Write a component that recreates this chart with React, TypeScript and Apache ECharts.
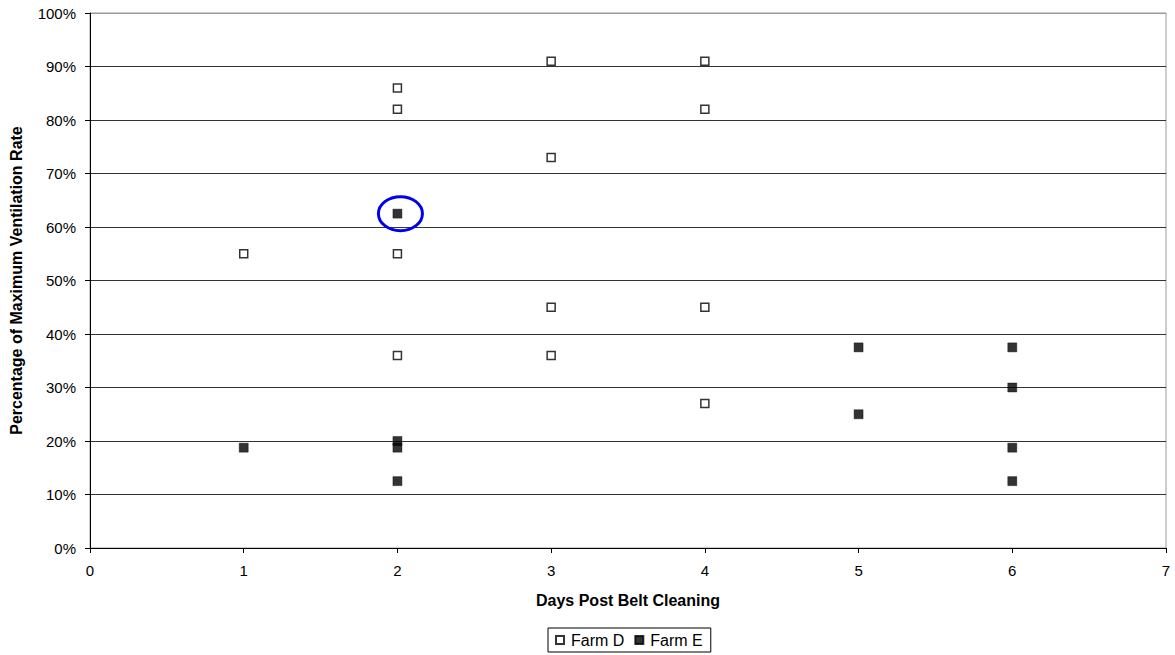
import React, { useEffect, useRef } from "react";
import * as echarts from "echarts";

const farmDDays = [1, 2, 2, 2, 2, 3, 3, 3, 3, 4, 4, 4, 4];
const farmDValues = [55, 86, 82, 55, 36, 91, 73, 45, 36, 91, 82, 45, 27];
const farmEDays = [1, 2, 2, 2, 2, 5, 5, 6, 6, 6, 6];
const farmEValues = [18.75, 62.5, 20, 18.75, 12.5, 37.5, 25, 37.5, 30, 18.75, 12.5];
const highlightPoint = [2, 62.5];
const seriesNames = ["Farm D", "Farm E"];

const FONT = "'Liberation Sans', Arial, sans-serif";

export default function App() {
  const ref = useRef<HTMLDivElement>(null);
  useEffect(() => {
    if (!ref.current) return;
    const chart = echarts.init(ref.current, undefined, { renderer: "svg" });
    const gridLineColors = ["#333", "#333", "#333", "#333", "#333", "#333", "#333", "#333", "#333", "#333", "#999"];
    const option: any = {
      animation: false,
      backgroundColor: "#fff",
      textStyle: { fontFamily: FONT },
      grid: {
        left: 90,
        right: 9,
        top: 13,
        bottom: 107,
        show: true,
        borderColor: "#999",
        borderWidth: 1,
        outerBoundsMode: "none",
        containLabel: false,
      },
      legend: {
        top: 628,
        left: 548,
        itemWidth: 8,
        itemHeight: 8,
        itemGap: 10,
        padding: [4, 8, 4, 7],
        borderColor: "#000",
        borderWidth: 1,
        borderRadius: 0,
        textStyle: { fontFamily: FONT, fontSize: 16, color: "#000", padding: [0, 0, 0, 2] },
        data: [
          { name: seriesNames[0], icon: "rect" },
          { name: seriesNames[1], icon: "rect" },
        ],
      },
      xAxis: {
        type: "value",
        min: 0,
        max: 7,
        interval: 1,
        name: "Days Post Belt Cleaning",
        nameLocation: "middle",
        nameGap: 44,
        nameTextStyle: { fontFamily: FONT, fontSize: 16, fontWeight: "bold", color: "#000" },
        axisLine: { show: true, lineStyle: { color: "#000", width: 1 } },
        axisTick: { show: true, length: 5, lineStyle: { color: "#000" } },
        axisLabel: { fontFamily: FONT, fontSize: 15, color: "#000", margin: 15 },
        splitLine: { show: false },
      },
      yAxis: {
        type: "value",
        min: 0,
        max: 100,
        interval: 10,
        name: "Percentage of Maximum Ventilation Rate",
        nameLocation: "middle",
        nameGap: 66,
        nameTextStyle: { fontFamily: FONT, fontSize: 16, fontWeight: "bold", color: "#000" },
        axisLine: { show: true, lineStyle: { color: "#000", width: 1 } },
        axisTick: { show: true, length: 5, lineStyle: { color: "#000" } },
        axisLabel: { fontFamily: FONT, fontSize: 15, color: "#000", margin: 14, formatter: "{value}%" },
        splitLine: { show: true, lineStyle: { color: gridLineColors, width: 1 } },
      },
      series: [
        {
          name: seriesNames[0],
          type: "scatter",
          symbol: "rect",
          symbolSize: 8,
          itemStyle: { color: "#fff", borderColor: "#000", borderWidth: 1.5 },
          data: farmDDays.map((d, i) => [d, farmDValues[i]]),
          z: 3,
        },
        {
          name: seriesNames[1],
          type: "scatter",
          symbol: "rect",
          symbolSize: 9,
          itemStyle: { color: "#000", borderColor: "#000", borderWidth: 0.5 },
          data: farmEDays.map((d, i) => [d, farmEValues[i]]),
          z: 4,
        },
      ],
    };
    chart.setOption(option);
    const p = chart.convertToPixel({ gridIndex: 0 }, highlightPoint) as number[];
    chart.setOption({
      graphic: [
        {
          type: "ellipse",
          shape: { cx: p[0] + 3, cy: p[1], rx: 22, ry: 17 },
          style: { fill: "none", stroke: "#0000ee", lineWidth: 3 },
          z: 10,
        },
      ],
    });
    return () => chart.dispose();
  }, []);
  return <div ref={ref} style={{ width: 1175, height: 655, position: "absolute", left: 0, top: 0 }} />;
}
